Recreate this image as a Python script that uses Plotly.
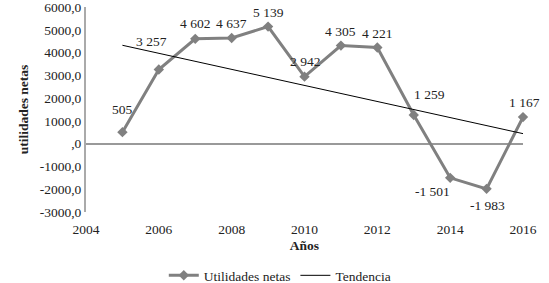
import plotly.graph_objects as go

years = [2005, 2006, 2007, 2008, 2009, 2010, 2011, 2012, 2013, 2014, 2015, 2016]
utilidades = [505, 3257, 4602, 4637, 5139, 2942, 4305, 4221, 1259, -1501, -1983, 1167]
value_labels = ["505", "3 257", "4 602", "4 637", "5 139", "2 942", "4 305", "4 221",
                "1 259", "-1 501", "-1 983", "1 167"]
trend_years = [2005, 2016]
trend_values = [4320, 440]
y_tickvals = [6000, 5000, 4000, 3000, 2000, 1000, 0, -1000, -2000, -3000]
y_ticktext = ["6000,0", "5000,0", "4000,0", "3000,0", "2000,0", "1000,0", ",0",
              "-1000,0", "-2000,0", "-3000,0"]
x_tickvals = [2004, 2006, 2008, 2010, 2012, 2014, 2016]

# label offsets in pixels (style)
label_dx = [0, -7, 0, 0, 0, 0, 0, 0, 16, -18, 1, 1]
label_dy = [23, 28, 15, 15, 14, 15, 14, 14, 20, -14, -17, 15]

FONT = "Liberation Serif"
GRAY = "#808080"
TXT = "#222222"

fig = go.Figure()
fig.add_trace(go.Scatter(
    x=years, y=utilidades, mode="lines+markers", name="Utilidades netas",
    line=dict(color=GRAY, width=3),
    marker=dict(symbol="diamond", size=8, color=GRAY),
    cliponaxis=False,
))
fig.add_trace(go.Scatter(
    x=trend_years, y=trend_values, mode="lines", name="Tendencia",
    line=dict(color="black", width=1),
))

for x, y, t, dx, dy in zip(years, utilidades, value_labels, label_dx, label_dy):
    fig.add_annotation(x=x, y=y, text=t, showarrow=False, xshift=dx, yshift=dy,
                       font=dict(family=FONT, size=13.5, color=TXT))

fig.update_layout(
    width=549, height=283,
    margin=dict(l=86, r=26, t=7, b=71, autoexpand=False),
    plot_bgcolor="white", paper_bgcolor="white",
    font=dict(family=FONT, size=13.5, color=TXT),
    showlegend=True,
    legend=dict(orientation="h", x=0.178, xanchor="left", y=-0.31, yanchor="middle",
                font=dict(family=FONT, size=13.5, color=TXT), itemwidth=30,
                bgcolor="rgba(0,0,0,0)"),
)
fig.update_xaxes(
    range=[2004, 2016], tickvals=x_tickvals, showgrid=False, zeroline=False,
    showline=False, ticks="outside", ticklen=5, tickcolor="rgba(0,0,0,0)",
    ticklabeloverflow="allow", automargin=False,
    tickfont=dict(family=FONT, size=13.5, color=TXT),
    title=dict(text="<b>Años</b>", standoff=4, font=dict(family=FONT, size=13.5)),
)
fig.update_yaxes(
    range=[-3000, 6000], tickvals=y_tickvals, ticktext=y_ticktext, showgrid=False,
    zeroline=True, zerolinecolor="#999999", zerolinewidth=1.5, automargin=False,
    showline=True, linecolor="#aaaaaa", linewidth=2, ticks="", ticklabeloverflow="allow",
    tickfont=dict(family=FONT, size=13.5, color=TXT),
    title=dict(text="<b>utilidades netas</b>", standoff=8,
               font=dict(family=FONT, size=13.5)),
)

fig.write_html("out.html", config={"displayModeBar": False},
               post_script="document.body.style.margin='0';")
